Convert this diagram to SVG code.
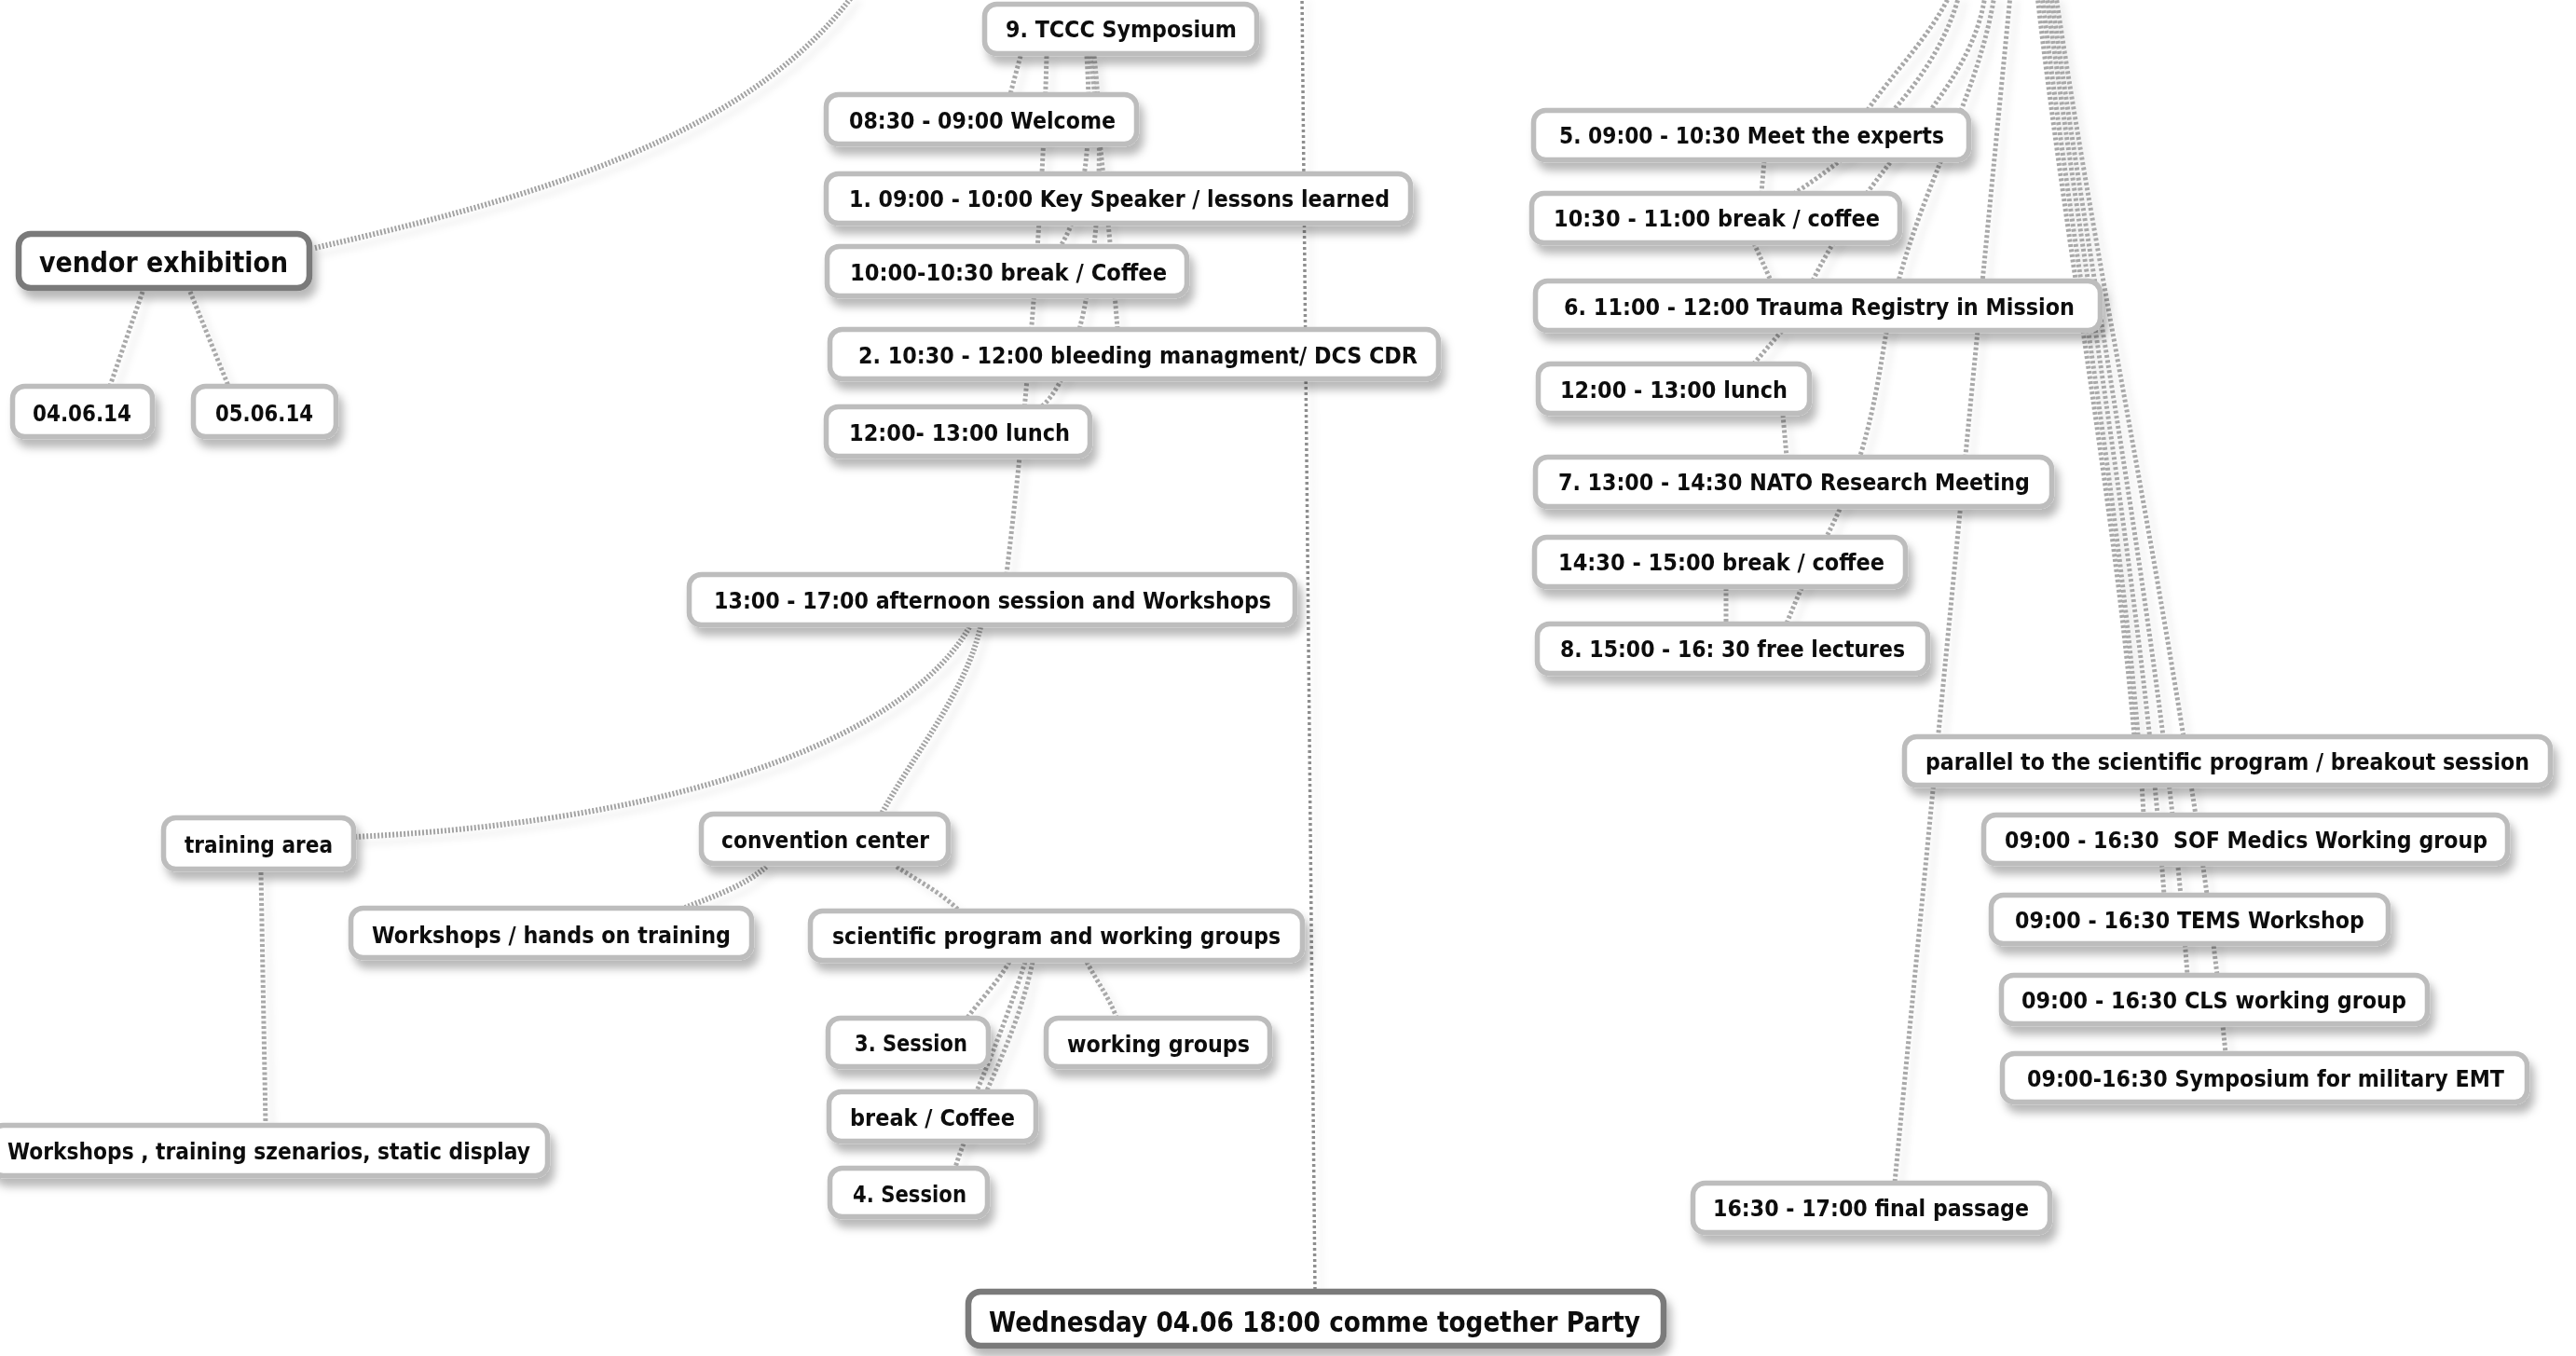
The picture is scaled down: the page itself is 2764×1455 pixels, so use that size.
<svg xmlns="http://www.w3.org/2000/svg" width="2764" height="1455" viewBox="0 0 2764 1455">
<defs>
<filter id="nsh" x="-10%" y="-30%" width="125%" height="180%">
<feDropShadow dx="5" dy="9" stdDeviation="5" flood-color="#000" flood-opacity="0.28"/>
</filter>
<filter id="lsh" x="-10%" y="-10%" width="120%" height="120%">
<feDropShadow dx="7" dy="7" stdDeviation="3.5" flood-color="#000" flood-opacity="0.10"/>
</filter>
<style>
.box{fill:#fff;stroke:#bdbdbd;stroke-width:5.5}
.main{fill:#fff;stroke:#7a7a7a;stroke-width:6.5}
.t{font-family:"DejaVu Sans","Liberation Sans",sans-serif;font-weight:bold;font-size:25px;fill:#0d0d0d}
.tm{font-family:"DejaVu Sans","Liberation Sans",sans-serif;font-weight:bold;font-size:31px;fill:#0d0d0d}
.c{fill:none;stroke:#a9a9a9;stroke-width:5;stroke-dasharray:3 2.5}
.h{fill:none;stroke:#a3a3a3;stroke-width:6;stroke-dasharray:2 2}
.v{fill:none;stroke:#8e8e8e;stroke-width:3.5;stroke-dasharray:3 3}
.nodes g{filter:url(#nsh)}
</style>
</defs>
<rect width="2764" height="1455" fill="#fff"/>
<g id="connectors" filter="url(#lsh)">
<path class="v" d="M1397,-5 L1411,1386"/>
<path class="h" d="M338,266 C560,215 800,150 915,-5"/>
<path class="c" d="M153,313 L118,414"/>
<path class="c" d="M204,313 L245,414"/>
<path class="c" d="M1095,60 L1084,101"/>
<path class="c" d="M1123,60 C1118,250 1100,450 1080,616"/>
<path class="c" d="M1166,60 C1172,150 1165,220 1138,264"/>
<path class="c" d="M1170,60 C1180,150 1192,260 1199,353"/>
<path class="c" d="M1174,60 C1190,200 1170,390 1118,436"/>
<path class="h" d="M1040,673 C980,780 760,880 380,898"/>
<path class="h" d="M1052,673 C1035,745 980,810 946,873"/>
<path class="h" d="M822,930 C800,950 765,962 735,974"/>
<path class="c" d="M962,930 C985,945 1010,958 1029,977"/>
<path class="c" d="M280,936 L285,1207"/>
<path class="c" d="M1083,1032 C1070,1055 1050,1075 1038,1092"/>
<path class="c" d="M1100,1032 C1085,1080 1065,1130 1048,1171"/>
<path class="c" d="M1108,1032 C1090,1120 1040,1200 1025,1253"/>
<path class="c" d="M1166,1032 C1178,1055 1190,1070 1198,1092"/>
<path class="c" d="M2092,-5 C2070,40 2030,80 2004,118"/>
<path class="c" d="M2102,-5 C2085,60 2030,140 1926,207"/>
<path class="c" d="M2130,-5 C2115,100 2010,170 1945,301"/>
<path class="c" d="M2140,-5 C2120,120 2045,220 2020,380 S1960,560 1917,669"/>
<path class="c" d="M2157,-5 L2033,1269"/>
<path class="c" d="M1893,172 L1890,207"/>
<path class="c" d="M1882,261 L1900,301"/>
<path class="c" d="M1912,355 L1882,390"/>
<path class="c" d="M1913,445 L1917,490"/>
<path class="c" d="M1852,631 L1852,669"/>
<path class="c" d="M2186,-5 C2215,250 2270,550 2290,790"/>
<path class="c" d="M2191,-5 C2225,280 2285,600 2300,874"/>
<path class="c" d="M2196,-5 C2237,300 2300,650 2322,960"/>
<path class="c" d="M2201,-5 C2247,330 2322,700 2347,1046"/>
<path class="c" d="M2206,-5 C2258,350 2352,760 2388,1130"/>
</g>
<g class="nodes">
<g id="n-tccc"><rect class="box" x="1056.5" y="4.5" width="292" height="53" rx="13"/><text class="t" x="1079" y="40" textLength="248" lengthAdjust="spacingAndGlyphs">9. TCCC Symposium</text></g>
<g id="n-welcome"><rect class="box" x="886.5" y="101.5" width="333" height="53" rx="13"/><text class="t" x="911" y="138" textLength="286" lengthAdjust="spacingAndGlyphs">08:30 - 09:00 Welcome</text></g>
<g id="n-key"><rect class="box" x="886.5" y="186.5" width="627" height="53" rx="13"/><text class="t" x="911" y="222" textLength="580" lengthAdjust="spacingAndGlyphs">1. 09:00 - 10:00 Key Speaker / lessons learned</text></g>
<g id="n-coffee1"><rect class="box" x="887.5" y="264.5" width="386" height="53" rx="13"/><text class="t" x="912" y="301" textLength="340" lengthAdjust="spacingAndGlyphs">10:00-10:30 break / Coffee</text></g>
<g id="n-bleeding"><rect class="box" x="890.5" y="353.5" width="653" height="53" rx="13"/><text class="t" x="921" y="390" textLength="600" lengthAdjust="spacingAndGlyphs">2. 10:30 - 12:00 bleeding managment/ DCS CDR</text></g>
<g id="n-lunch1"><rect class="box" x="886.5" y="436.5" width="283" height="53" rx="13"/><text class="t" x="911" y="473" textLength="237" lengthAdjust="spacingAndGlyphs">12:00- 13:00 lunch</text></g>
<g id="n-afternoon"><rect class="box" x="739.5" y="616.5" width="650" height="54" rx="13"/><text class="t" x="766" y="653" textLength="598" lengthAdjust="spacingAndGlyphs">13:00 - 17:00 afternoon session and Workshops</text></g>
<g id="n-vendor"><rect class="main" x="20" y="251" width="312" height="58" rx="13"/><text class="tm" x="42" y="292" textLength="267" lengthAdjust="spacingAndGlyphs">vendor exhibition</text></g>
<g id="n-0406"><rect class="box" x="13.5" y="414.5" width="150" height="54" rx="13"/><text class="t" x="35" y="452" textLength="106" lengthAdjust="spacingAndGlyphs">04.06.14</text></g>
<g id="n-0506"><rect class="box" x="207.5" y="414.5" width="153" height="54" rx="13"/><text class="t" x="231" y="452" textLength="105" lengthAdjust="spacingAndGlyphs">05.06.14</text></g>
<g id="n-training"><rect class="box" x="175.5" y="877.5" width="204" height="55" rx="13"/><text class="t" x="198" y="915" textLength="159" lengthAdjust="spacingAndGlyphs">training area</text></g>
<g id="n-convention"><rect class="box" x="752.5" y="873.5" width="265" height="53" rx="13"/><text class="t" x="774" y="910" textLength="223" lengthAdjust="spacingAndGlyphs">convention center</text></g>
<g id="n-handson"><rect class="box" x="376.5" y="974.5" width="430" height="53" rx="13"/><text class="t" x="399" y="1012" textLength="385" lengthAdjust="spacingAndGlyphs">Workshops / hands on training</text></g>
<g id="n-scientific"><rect class="box" x="869.5" y="977.5" width="528" height="53" rx="13"/><text class="t" x="893" y="1013" textLength="481" lengthAdjust="spacingAndGlyphs">scientific program and working groups</text></g>
<g id="n-session3"><rect class="box" x="888.5" y="1092.5" width="172" height="52" rx="13"/><text class="t" x="917" y="1128" textLength="121" lengthAdjust="spacingAndGlyphs">3. Session</text></g>
<g id="n-wgroups"><rect class="box" x="1122.5" y="1092.5" width="240" height="52" rx="13"/><text class="t" x="1145" y="1129" textLength="196" lengthAdjust="spacingAndGlyphs">working groups</text></g>
<g id="n-coffee2"><rect class="box" x="889.5" y="1171.5" width="222" height="53" rx="13"/><text class="t" x="912" y="1208" textLength="177" lengthAdjust="spacingAndGlyphs">break / Coffee</text></g>
<g id="n-session4"><rect class="box" x="890.5" y="1253.5" width="169" height="52" rx="13"/><text class="t" x="915" y="1290" textLength="122" lengthAdjust="spacingAndGlyphs">4. Session</text></g>
<g id="n-static"><rect class="box" x="-9.5" y="1207.5" width="597" height="54" rx="13"/><text class="t" x="8" y="1244" textLength="561" lengthAdjust="spacingAndGlyphs">Workshops , training szenarios, static display</text></g>
<g id="n-party"><rect class="main" x="1039" y="1386" width="746" height="58" rx="13"/><text class="tm" x="1061" y="1429" textLength="699" lengthAdjust="spacingAndGlyphs">Wednesday 04.06 18:00 comme together Party</text></g>
<g id="n-experts"><rect class="box" x="1645.5" y="118.5" width="467" height="53" rx="13"/><text class="t" x="1673" y="154" textLength="413" lengthAdjust="spacingAndGlyphs">5. 09:00 - 10:30 Meet the experts</text></g>
<g id="n-coffee3"><rect class="box" x="1643.5" y="207.5" width="395" height="53" rx="13"/><text class="t" x="1667" y="243" textLength="350" lengthAdjust="spacingAndGlyphs">10:30 - 11:00 break / coffee</text></g>
<g id="n-trauma"><rect class="box" x="1647.5" y="301.5" width="606" height="53" rx="13"/><text class="t" x="1678" y="338" textLength="548" lengthAdjust="spacingAndGlyphs">6. 11:00 - 12:00 Trauma Registry in Mission</text></g>
<g id="n-lunch2"><rect class="box" x="1650.5" y="390.5" width="291" height="53" rx="13"/><text class="t" x="1674" y="427" textLength="244" lengthAdjust="spacingAndGlyphs">12:00 - 13:00 lunch</text></g>
<g id="n-nato"><rect class="box" x="1647.5" y="490.5" width="554" height="53" rx="13"/><text class="t" x="1672" y="526" textLength="506" lengthAdjust="spacingAndGlyphs">7. 13:00 - 14:30 NATO Research Meeting</text></g>
<g id="n-coffee4"><rect class="box" x="1646.5" y="576.5" width="398" height="53" rx="13"/><text class="t" x="1672" y="612" textLength="350" lengthAdjust="spacingAndGlyphs">14:30 - 15:00 break / coffee</text></g>
<g id="n-lectures"><rect class="box" x="1649.5" y="669.5" width="419" height="53" rx="13"/><text class="t" x="1674" y="705" textLength="370" lengthAdjust="spacingAndGlyphs">8. 15:00 - 16: 30 free lectures</text></g>
<g id="n-parallel"><rect class="box" x="2043.5" y="790.5" width="693" height="52" rx="13"/><text class="t" transform="translate(2066,826) scale(0.8,1)" x="0" y="0" textLength="810" lengthAdjust="spacingAndGlyphs">parallel to the scientific program / breakout session</text></g>
<g id="n-sof"><rect class="box" x="2128.5" y="874.5" width="562" height="52" rx="13"/><text class="t" x="2151" y="910" textLength="518" lengthAdjust="spacingAndGlyphs" xml:space="preserve">09:00 - 16:30  SOF Medics Working group</text></g>
<g id="n-tems"><rect class="box" x="2136.5" y="960.5" width="426" height="52" rx="13"/><text class="t" x="2162" y="996" textLength="375" lengthAdjust="spacingAndGlyphs">09:00 - 16:30 TEMS Workshop</text></g>
<g id="n-cls"><rect class="box" x="2147.5" y="1046.5" width="457" height="52" rx="13"/><text class="t" x="2169" y="1082" textLength="413" lengthAdjust="spacingAndGlyphs">09:00 - 16:30 CLS working group</text></g>
<g id="n-emt"><rect class="box" x="2148.5" y="1130.5" width="563" height="52" rx="13"/><text class="t" x="2175" y="1166" textLength="512" lengthAdjust="spacingAndGlyphs">09:00-16:30 Symposium for military EMT</text></g>
<g id="n-final"><rect class="box" x="1816.5" y="1269.5" width="383" height="53" rx="13"/><text class="t" x="1838" y="1305" textLength="339" lengthAdjust="spacingAndGlyphs">16:30 - 17:00 final passage</text></g>
</g>
</svg>
